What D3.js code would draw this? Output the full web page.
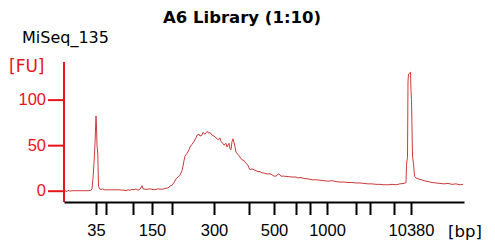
<!DOCTYPE html>
<html>
<head>
<meta charset="utf-8">
<script src="https://cdn.jsdelivr.net/npm/d3@7"></script>
<style>
  body { margin: 0; background: #fff; }
  svg { display: block; font-family: 'DejaVu Sans', Verdana, sans-serif; }
</style>
</head>
<body>
<svg id="chart" width="495" height="244"></svg>
<script>
'use strict';

// ladder (bp) and the migration time (s) of each ladder peak
const ladderSizes = [35, 50, 100, 150, 200, 300, 400, 500, 600, 700, 1000, 2000, 3000, 7000, 10380];
const ladderTimes = [38, 40.5, 47.25, 52, 57, 67.5, 76.25, 82.5, 88, 91.5, 95.75, 103, 106.5, 112.5, 116.75];
const labeledSizes = [35, 150, 300, 500, 1000, 10380];

const yTicks = [0, 50, 100];

// electropherogram trace: time (s) and fluorescence (FU)
const traceTime = [
  30.25, 30.75, 31, 31.5, 32, 34, 36, 36.75, 37, 37.25, 37.5, 37.75, 38, 38.125, 38.25, 38.45,
  38.625, 38.875, 39.25, 39.75, 40, 41.5, 43.5, 45, 45.5, 46, 46.5, 47, 47.5, 48, 48.5, 49,
  49.5, 49.75, 50.5, 51.5, 52.5, 53.5, 54.5, 55.25, 56, 56.5, 57, 57.5, 58, 58.5, 59, 59.5,
  59.75, 60, 60.25, 60.75, 61.25, 61.5, 62, 62.5, 63, 63.25, 63.75, 64, 64.5, 64.75, 65.25,
  65.75, 66.25, 66.5, 67, 67.5, 68, 68.5, 69, 69.25, 69.75, 70, 70.5, 70.75, 71.25, 71.5,
  71.75, 72, 72.25, 72.5, 72.75, 73, 73.5, 74, 74.5, 75, 75.5, 76, 76.25, 76.5, 77, 77.5,
  78, 78.5, 79, 79.5, 80, 80.5, 81.5, 82, 82.5, 83, 83.5, 83.75, 84.25, 85, 86, 87, 88,
  88.5, 89, 90, 91, 92, 93, 94, 95, 96, 97, 98, 99, 100, 101, 102, 103, 104, 105, 106,
  107, 108, 109, 110, 111, 112, 113, 114, 115, 115.5, 115.625, 115.875, 116, 116.125,
  116.625, 116.75, 116.875, 117.125, 117.375, 117.625, 118, 118.5, 119, 120, 121, 122,
  123, 124, 125, 126, 127, 128, 129, 129.75
];
const traceFU = [
  0, -1, 0.5, -0.5, 0, 0, 0, 0.5, 2, 14, 30, 52, 82, 70, 50, 40,
  5, 2, 1.5, 2, 1, 1, 1, 0.5, 0, 1, 0.5, 1.5, 1, 2, 0.5, 1.5,
  5.5, 2, 1.5, 2, 1, 2, 1.5, 2.5, 3, 5, 6, 9, 13, 15, 17, 22,
  27, 33, 38, 41, 45, 48, 51, 54, 58, 61, 62, 60, 61, 64, 62,
  65, 63, 64, 61, 60, 58, 56, 58, 54, 52, 50, 52, 48, 52, 46,
  45, 54, 57, 53, 48, 42, 40, 37, 34, 33, 30, 28, 25, 23, 24, 23,
  22, 21, 21, 19.5, 19.5, 18.5, 18.5, 17.5, 16, 16, 18, 18.5, 16, 16, 15.5, 15, 15,
  14, 14.5, 13.5, 13, 12, 12, 11.5, 11, 10.5, 11, 10, 9.5, 9.5, 9, 9, 8.5, 8.5, 8,
  7.5, 7.5, 7, 7, 6.5, 6.5, 7, 6.5, 7.5, 8, 9, 28, 38, 120,
  128, 130, 110, 100, 38, 30, 16, 14, 13, 12.5, 11, 10, 9,
  8.5, 8, 7.5, 8, 7, 7.5, 6.5, 7
];

const red = '#e8141a';
const traceColor = '#cc3b3b';

const svg = d3.select('#chart');

const plot = { left: 64, right: 464, top: 62, bottom: 202 };

const x = d3.scaleLinear().domain([30, 130]).range([plot.left, plot.right]);
const y = d3.scaleLinear().domain([-12.4, 141.3]).range([plot.bottom, plot.top]);

// title and sample name
svg.append('text')
  .attr('x', 242)
  .attr('y', 23)
  .attr('text-anchor', 'middle')
  .attr('font-size', 16.5)
  .attr('font-weight', 'bold')
  .text('A6 Library (1:10)');

svg.append('text')
  .attr('x', 22)
  .attr('y', 43)
  .attr('font-size', 16)
  .text('MiSeq_135');

svg.append('text')
  .attr('x', 9)
  .attr('y', 72)
  .attr('font-size', 17)
  .attr('fill', red)
  .text('[FU]');

// trace
const line = d3.line()
  .x((d, i) => x(traceTime[i]))
  .y(d => y(d));

svg.append('path')
  .datum(traceFU)
  .attr('fill', 'none')
  .attr('stroke', traceColor)
  .attr('stroke-width', 1)
  .attr('d', line);

// y axis
const yAxis = svg.append('g')
  .attr('transform', 'translate(' + plot.left + ',0)')
  .call(d3.axisLeft(y).tickValues(yTicks).tickSize(16).tickSizeOuter(0).tickPadding(2));
yAxis.select('.domain')
  .attr('d', 'M0,' + plot.top + 'V' + plot.bottom)
  .attr('stroke', red)
  .attr('stroke-width', 2);
yAxis.selectAll('.tick line').attr('stroke', red).attr('stroke-width', 2);
yAxis.selectAll('.tick text')
  .attr('fill', red)
  .attr('font-size', 16.5)
  .attr('font-family', null);

// x axis
const xAxis = svg.append('g')
  .attr('transform', 'translate(0,' + plot.bottom + ')')
  .call(
    d3.axisBottom(x)
      .tickValues(ladderTimes)
      .tickSize(13)
      .tickSizeOuter(0)
      .tickPadding(9)
      .tickFormat((d, i) => labeledSizes.includes(ladderSizes[i]) ? ladderSizes[i] : '')
  );
xAxis.select('.domain').attr('stroke', '#000').attr('stroke-width', 2);
xAxis.selectAll('.tick line').attr('stroke', '#000').attr('stroke-width', 2);
xAxis.selectAll('.tick text')
  .attr('fill', '#000')
  .attr('font-size', 16.5)
  .attr('font-family', null);

svg.append('text')
  .attr('x', 465)
  .attr('y', 237)
  .attr('text-anchor', 'middle')
  .attr('font-size', 16.5)
  .text('[bp]');
</script>
</body>
</html>
